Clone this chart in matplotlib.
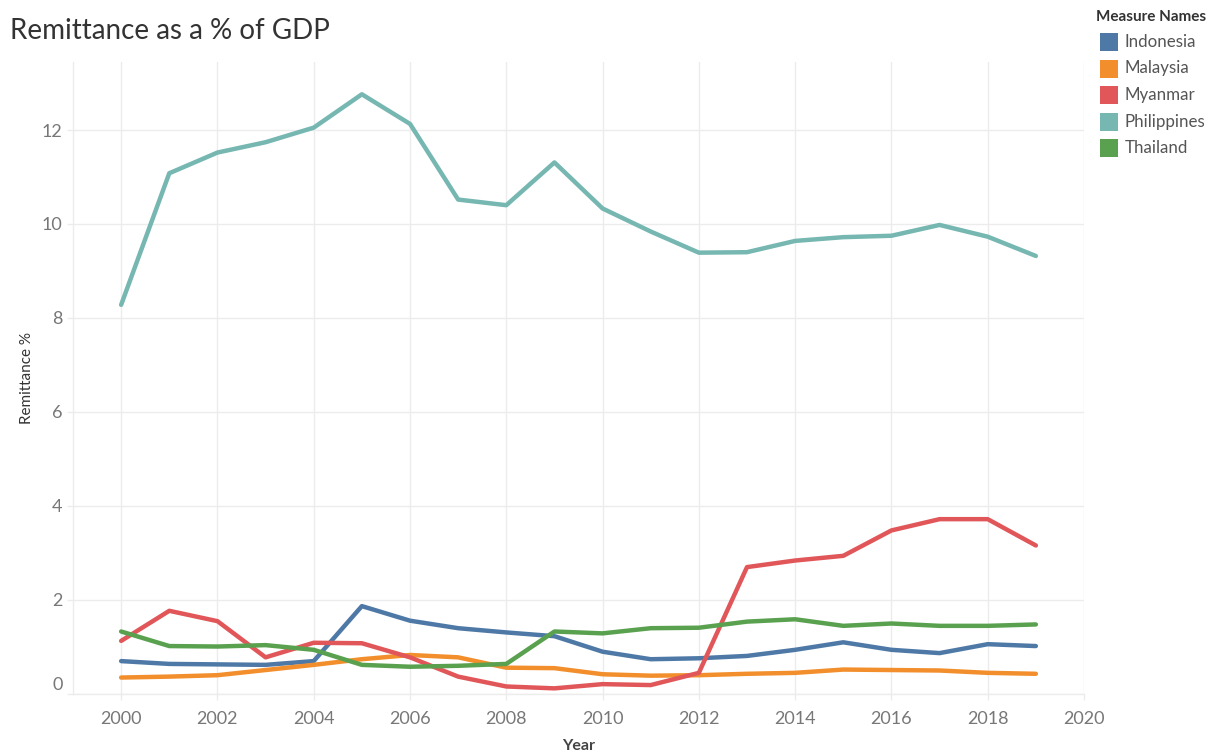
import matplotlib
matplotlib.use("Agg")
import matplotlib.pyplot as plt
from matplotlib.transforms import ScaledTranslation
from matplotlib.patches import Rectangle

plt.rcParams['font.family'] = ['Lato', 'DejaVu Sans']

years = list(range(2000, 2020))

indonesia = [0.70, 0.64, 0.63, 0.62, 0.70, 1.87, 1.56, 1.40, 1.31, 1.23,
             0.90, 0.74, 0.76, 0.81, 0.94, 1.10, 0.94, 0.87, 1.06, 1.02]
malaysia = [0.35, 0.37, 0.40, 0.51, 0.62, 0.74, 0.83, 0.78, 0.56, 0.55,
            0.42, 0.39, 0.40, 0.43, 0.45, 0.52, 0.51, 0.50, 0.45, 0.43]
myanmar = [1.13, 1.77, 1.55, 0.78, 1.09, 1.08, 0.78, 0.37, 0.16, 0.12,
           0.21, 0.19, 0.45, 2.70, 2.84, 2.94, 3.48, 3.72, 3.72, 3.16]
philippines = [8.28, 11.08, 11.52, 11.74, 12.05, 12.76, 12.13, 10.52, 10.40, 11.31,
               10.33, 9.84, 9.39, 9.40, 9.64, 9.72, 9.75, 9.98, 9.73, 9.32]
thailand = [1.33, 1.02, 1.01, 1.04, 0.94, 0.62, 0.58, 0.60, 0.64, 1.33,
            1.29, 1.40, 1.41, 1.54, 1.59, 1.45, 1.50, 1.45, 1.45, 1.48]

series_names = ["Indonesia", "Malaysia", "Myanmar", "Philippines", "Thailand"]
series_values = [indonesia, malaysia, myanmar, philippines, thailand]
colors = ["#4E79A7", "#F28E2B", "#E15759", "#76B7B2", "#59A14F"]

x_ticks = list(range(2000, 2021, 2))
y_ticks = [0, 2, 4, 6, 8, 10, 12]

W, H = 1221, 753
fig = plt.figure(figsize=(W / 100, H / 100), dpi=100)
left, right, top, bottom = 73, 1084, 62, 694
ax = fig.add_axes([left / W, 1 - bottom / H, (right - left) / W, (bottom - top) / H])

grid_c = "#ececec"
for i, (name, vals) in enumerate(zip(series_names, series_values)):
    ax.plot(years, vals, color=colors[i], lw=3.2, solid_capstyle='round',
            solid_joinstyle='round', zorder=3 + (1 if name == "Philippines" else 0))

ax.set_xlim(1999, 2020)
ax.set_ylim(0, (bottom - top) / 47.0)
ax.set_xticks(x_ticks)
ax.set_yticks(y_ticks)
ax.grid(True, color=grid_c, lw=1.0, zorder=0)
ax.set_axisbelow(True)
for s in ["top", "right"]:
    ax.spines[s].set_visible(False)
for s in ["left", "bottom"]:
    ax.spines[s].set_color(grid_c)
    ax.spines[s].set_linewidth(1.0)

ax.tick_params(axis='both', colors=grid_c, length=4.5, width=1.0,
               labelcolor="#777777", labelsize=13)
ax.tick_params(axis='x', pad=8)
ax.tick_params(axis='y', pad=3)

# lift the zero label above the baseline
zero_lab = ax.get_yticklabels()[0]
zero_lab.set_transform(zero_lab.get_transform() +
                       ScaledTranslation(0, 11 / 100, fig.dpi_scale_trans))

ax.set_ylabel("Remittance %", fontsize=11, color="#333333")
ax.yaxis.set_label_coords((27 - left) / (right - left), 0.5)
ax.yaxis.label.set_va('center')
ax.set_xlabel("Year", fontsize=11.5, color="#444444", fontweight='bold')
ax.xaxis.set_label_coords(0.5, -(746 - bottom) / (bottom - top))
ax.xaxis.label.set_va('center')

fig.text(10 / W, 1 - 31 / H, "Remittance as a % of GDP", fontsize=20,
         color="#333333", va='center', ha='left')

# legend
fig.text(1096 / W, 1 - 17 / H, "Measure Names", fontsize=11, fontweight='bold',
         color="#333333", va='center', ha='left')
for i, name in enumerate(series_names):
    yc = 42 + i * 26.5
    fig.patches.append(Rectangle((1100 / W, 1 - (yc + 9) / H), 18 / W, 18 / H,
                                 transform=fig.transFigure, facecolor=colors[i],
                                 edgecolor='none'))
    fig.text(1125 / W, 1 - yc / H, name, fontsize=12.2, color="#555555",
             va='center', ha='left')

fig.savefig("out.png", dpi=100, facecolor="white")
